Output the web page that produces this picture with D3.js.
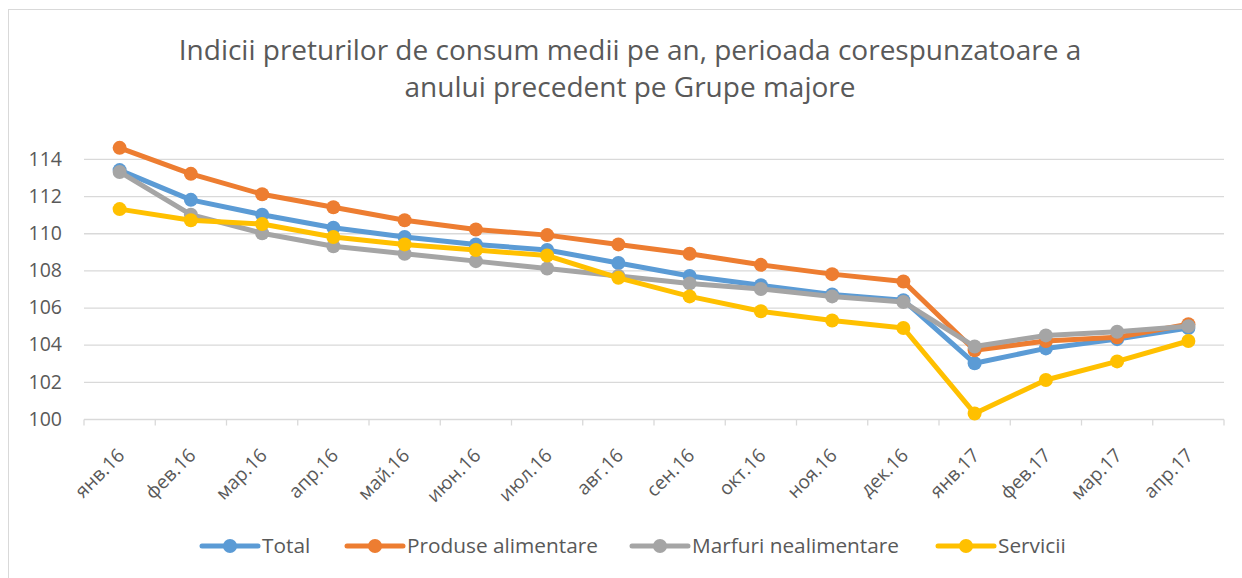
<!DOCTYPE html>
<html>
<head>
<meta charset="utf-8">
<script src="https://cdn.jsdelivr.net/npm/d3@7"></script>
<style>
  body { margin: 0; background: #fff; }
  text { font-family: "Open Sans", "Noto Sans", sans-serif; fill: #595959; }
</style>
</head>
<body>
<div id="chart"></div>
<script>
const months = ['янв.16','фев.16','мар.16','апр.16','май.16','июн.16','июл.16','авг.16',
                'сен.16','окт.16','ноя.16','дек.16','янв.17','фев.17','мар.17','апр.17'];
const total     = [113.4,111.8,111.0,110.3,109.8,109.4,109.1,108.4,107.7,107.2,106.7,106.4,103.0,103.8,104.3,104.9];
const produse   = [114.6,113.2,112.1,111.4,110.7,110.2,109.9,109.4,108.9,108.3,107.8,107.4,103.7,104.2,104.4,105.1];
const marfuri   = [113.3,111.0,110.0,109.3,108.9,108.5,108.1,107.7,107.3,107.0,106.6,106.3,103.9,104.5,104.7,105.0];
const servicii  = [111.3,110.7,110.5,109.8,109.4,109.1,108.8,107.6,106.6,105.8,105.3,104.9,100.3,102.1,103.1,104.2];
const seriesNames = ['Total','Produse alimentare','Marfuri nealimentare','Servicii'];
const yTicks = [100,102,104,106,108,110,112,114];
const titleLines = ['Indicii preturilor de consum medii pe an, perioada corespunzatoare a',
                    'anului precedent pe Grupe majore'];

const series = [total, produse, marfuri, servicii];
const colors = ['#5B9BD5','#ED7D31','#A5A5A5','#FFC000'];

const width = 1242, height = 578;
var svg = d3.select('#chart').append('svg')
  .attr('width', width)
  .attr('height', height);

// chart frame
svg.append('rect')
  .attr('x', 8.5).attr('y', 9.5)
  .attr('width', 1240).attr('height', 600)
  .attr('fill', 'none')
  .attr('stroke', '#d9d9d9');

var xScale = d3.scaleBand()
  .domain(months)
  .range([84, 1224]);

var yScale = d3.scaleLinear()
  .domain([100, 115])
  .range([419, 140.4]);

const cx = m => xScale(m) + xScale.bandwidth() / 2;

// title
svg.append('text')
  .attr('text-anchor', 'middle')
  .style('font-size', '28px')
  .selectAll('tspan')
  .data(titleLines)
  .join('tspan')
    .attr('x', 630)
    .attr('y', (d, i) => 60 + i * 37)
    .text(d => d);

// gridlines
svg.append('g')
  .selectAll('line')
  .data(yTicks.slice(1))
  .join('line')
    .attr('x1', 84).attr('x2', 1224)
    .attr('y1', d => yScale(d) + 0.5).attr('y2', d => yScale(d) + 0.5)
    .attr('stroke', '#d9d9d9')
    .attr('stroke-width', 1.3);

// y axis labels
var yAxis = svg.append('g')
  .attr('transform', 'translate(84,0)')
  .call(d3.axisLeft(yScale).tickValues(yTicks).tickSize(0).tickPadding(22));
yAxis.select('.domain').remove();
yAxis.selectAll('text')
  .style('font-size', '19.5px')
  .style('font-family', '"Open Sans", "Noto Sans", sans-serif')
  .attr('fill', '#595959');

// x axis, ticks sit on the category boundaries
var xg = svg.append('g').attr('transform', 'translate(0,419.5)');
xg.append('line')
  .attr('x1', 84).attr('x2', 1224)
  .attr('stroke', '#d9d9d9').attr('stroke-width', 1.3);
xg.selectAll('line.tick')
  .data(months.concat(['end']))
  .join('line')
    .attr('class', 'tick')
    .attr('x1', (d, i) => i < months.length ? xScale(d) : 1224)
    .attr('x2', (d, i) => i < months.length ? xScale(d) : 1224)
    .attr('y1', 0).attr('y2', 6)
    .attr('stroke', '#d9d9d9').attr('stroke-width', 1.3);
xg.selectAll('text')
  .data(months)
  .join('text')
    .attr('transform', d => `translate(${cx(d) + 6},${37}) rotate(-45)`)
    .attr('text-anchor', 'end')
    .style('font-size', '19px')
    .text(d => d);

// lines + markers
var line = d3.line()
  .x((d, i) => cx(months[i]))
  .y(d => yScale(d));

series.forEach((s, k) => {
  var g = svg.append('g');
  g.append('path')
    .datum(s)
    .attr('d', line)
    .attr('fill', 'none')
    .attr('stroke', colors[k])
    .attr('stroke-width', 5)
    .attr('stroke-linejoin', 'round');
  g.selectAll('circle')
    .data(s)
    .join('circle')
      .attr('cx', (d, i) => cx(months[i]))
      .attr('cy', d => yScale(d))
      .attr('r', 7)
      .attr('fill', colors[k]);
});

// legend
const legendX = [202, 347, 632, 938];
var legend = svg.append('g');
seriesNames.forEach((name, k) => {
  var lg = legend.append('g').attr('transform', `translate(${legendX[k]},546)`);
  lg.append('line')
    .attr('x1', 0).attr('x2', 56)
    .attr('stroke', colors[k]).attr('stroke-width', 5)
    .attr('stroke-linecap', 'round');
  lg.append('circle')
    .attr('cx', 28).attr('r', 7)
    .attr('fill', colors[k]);
  lg.append('text')
    .attr('x', 60).attr('y', 7)
    .style('font-size', '20.8px')
    .text(name);
});
</script>
</body>
</html>
